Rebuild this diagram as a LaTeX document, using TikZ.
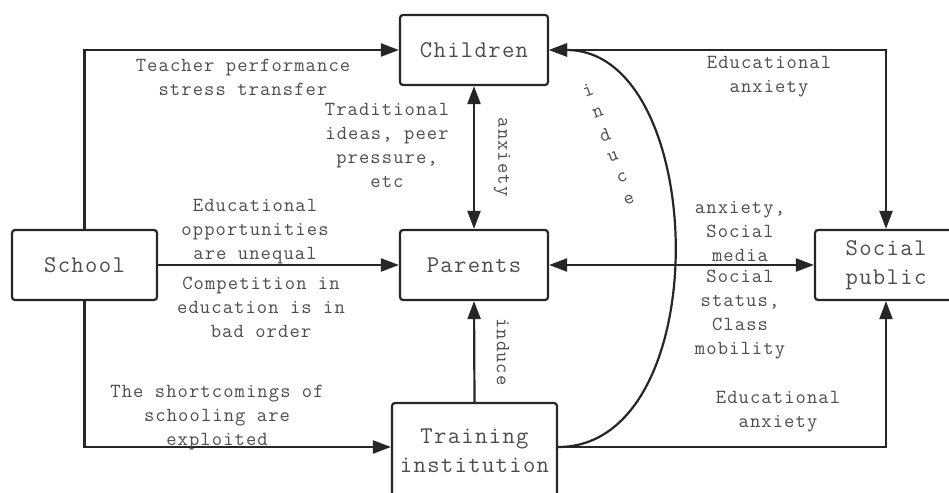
\documentclass[tikz,border=0pt]{standalone}
\usepackage{fontspec}
\newfontfamily\diagfont{Latin Modern Mono}[LetterSpace=5.5]
\usetikzlibrary{arrows.meta}
\tikzset{
  box/.style={draw=black!85, line width=2.2pt, rounded corners=3pt, inner sep=0pt, align=center, text=black!70, font=\diagfont\fontsize{24}{29}\selectfont},
  lbl/.style={align=center, text=black!70, inner sep=0pt, font=\diagfont\fontsize{20}{24}\selectfont},
  arr/.style={draw=black!85, line width=2.2pt, -{Triangle[length=18pt,width=13pt]}},
  dbl/.style={draw=black!85, line width=2.2pt, {Triangle[length=18pt,width=13pt]}-{Triangle[length=18pt,width=13pt]}}
}
\begin{document}
\begin{tikzpicture}[x=1pt, y=-1pt]
    \useasboundingbox (0,0) rectangle (949,492);
    \clip (0,0) rectangle (949,492);
    \node[box, minimum width=148pt, minimum height=70pt] (child) at (474, 50) {Children};
    \node[box, minimum width=148pt, minimum height=70pt] (par) at (474, 265) {Parents};
    \node[box, minimum width=145pt, minimum height=70pt] (school) at (84.5, 265) {School};
    \node[box, minimum width=142pt, minimum height=70pt] (soc) at (886, 265) {Social\\public};
    \node[box, minimum width=165pt, minimum height=96pt] (train) at (474.5, 451) {Training\\institution};
    \draw[arr] (school.north) |- (child.west);
    \draw[dbl] (child.south) -- (par.north);
    \draw[arr] (school.east) -- (par.west);
    \draw[dbl] (par.east) -- (soc.west);
    \draw[dbl] (child.east) -| (soc.north);
    \draw[arr] (train.north) -- (par.south);
    \draw[arr] (school.south) |- ([yshift=4pt]train.west);
    \draw[arr] ([yshift=4pt]train.east) -| (soc.south);
    \draw[arr] ([yshift=4pt]train.east) .. controls +(160,0) and +(160,0) .. (child.east);
    \node[lbl] (teach) at (243, 77) {Teacher performance\\stress transfer};
    \node[lbl] (trad) at (387, 145) {Traditional\\ideas, peer\\pressure,\\etc};
    \node[lbl, rotate=-90] (anx) at (502, 157) {anxiety};
    \node[lbl] (opp) at (255, 232) {Educational\\opportunities\\are unequal};
    \node[lbl] (comp) at (261, 307) {Competition in\\education is in\\bad order};
    \node[lbl] (short) at (217, 418) {The shortcomings of\\schooling are\\exploited};
    \node[lbl] (educa) at (769, 77) {Educational\\anxiety};
    \node[lbl] (media) at (740, 232) {anxiety,\\Social\\media};
    \node[lbl] (status) at (740, 315) {Social\\status,\\Class\\mobility};
    \node[lbl] (educb) at (778, 412) {Educational\\anxiety};
    \node[lbl, rotate=-90] (ind) at (503, 352) {induce};
    \foreach \ch/\x/\y [count=\i] in {i/588/90, n/598/113, d/605/135, u/613/157, c/622/178, e/629/200}
      \node[lbl, rotate=20] (curve\i) at (\x, \y) {\ch};
\end{tikzpicture}
\end{document}
